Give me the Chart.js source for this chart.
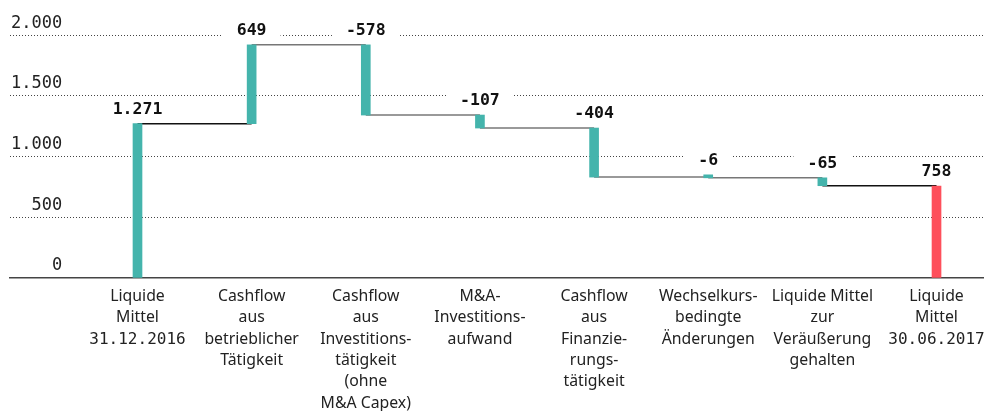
<!DOCTYPE html>
<html>
<head>
<meta charset="utf-8">
<script src="https://cdn.jsdelivr.net/npm/chart.js@4.4.1/dist/chart.umd.min.js"></script>
<style>
  html, body { margin: 0; padding: 0; background: #fff; }
  #wrap { width: 984px; height: 411px; }
</style>
</head>
<body>
<div id="wrap"><canvas id="cashChart"></canvas></div>
<script>
// Chart data
var categories = [
  ["Liquide", "Mittel", "31.12.2016"],
  ["Cashflow", "aus", "betrieblicher", "Tätigkeit"],
  ["Cashflow", "aus", "Investitions-", "tätigkeit", "(ohne", "M&A Capex)"],
  ["M&A-", "Investitions-", "aufwand"],
  ["Cashflow", "aus", "Finanzie-", "rungs-", "tätigkeit"],
  ["Wechselkurs-", "bedingte", "Änderungen"],
  ["Liquide Mittel", "zur", "Veräußerung", "gehalten"],
  ["Liquide", "Mittel", "30.06.2017"]
];
var changes = [1271, 649, -578, -107, -404, -6, -65, 758];
var isTotal = [true, false, false, false, false, false, false, true];
var yTickValues = [0, 500, 1000, 1500, 2000];

var TEAL = "#44b4ac";
var RED = "#fe4f5b";
var SANS = "15.8px 'Noto Sans'";
var MONO = "16px 'DejaVu Sans Mono'";

function fmtDe(v) {
  var s = String(Math.abs(v)).replace(/\B(?=(\d{3})+(?!\d))/g, ".");
  return (v < 0 ? "-" : "") + s;
}

// Build floating bars (waterfall) and connector lines
var barRanges = [];
var levels = [];
var running = 0;
changes.forEach(function (v, i) {
  if (isTotal[i]) {
    barRanges.push({ x: i, y: [0, v] });
    running = v;
  } else {
    barRanges.push({ x: i, y: [running, running + v] });
    running += v;
  }
  levels.push(running);
});

var connectorPoints = [];
for (var i = 0; i < categories.length - 1; i++) {
  connectorPoints.push({ x: i, y: levels[i] });
  connectorPoints.push({ x: i + 1, y: levels[i] });
  connectorPoints.push({ x: i + 1, y: null });
}
var lastConnector = (categories.length - 2) * 3;

// Value labels above the bars, with a white box that breaks the grid line
var valueLabelPlugin = {
  id: "valueLabels",
  beforeDatasetsDraw: function (chart) {
    var ctx = chart.ctx;
    var bars = chart.getDatasetMeta(0).data;
    ctx.save();
    ctx.font = "bold 16.5px 'DejaVu Sans Mono'";
    ctx.fillStyle = "#fff";
    bars.forEach(function (bar, i) {
      var top = Math.min(bar.y, bar.base);
      var w = ctx.measureText(fmtDe(changes[i])).width;
      var baseline = top - 10;
      ctx.fillRect(bar.x - w / 2 - 14, baseline - 12 - 5, w + 28, 12 + 5 + 4);
    });
    ctx.restore();
  },
  afterDatasetsDraw: function (chart) {
    var ctx = chart.ctx;
    var bars = chart.getDatasetMeta(0).data;
    ctx.save();
    ctx.font = "bold 16.5px 'DejaVu Sans Mono'";
    ctx.fillStyle = "#111";
    ctx.textAlign = "center";
    ctx.textBaseline = "alphabetic";
    bars.forEach(function (bar, i) {
      var top = Math.min(bar.y, bar.base);
      ctx.fillText(fmtDe(changes[i]), bar.x, top - 10);
    });
    ctx.restore();
  }
};

// Category labels under the axis (dates are set in the monospaced face)
var categoryLabelPlugin = {
  id: "categoryLabels",
  afterDraw: function (chart) {
    var ctx = chart.ctx;
    var xScale = chart.scales.x;
    var firstBaseline = chart.chartArea.bottom + 23;
    ctx.save();
    ctx.fillStyle = "#222";
    ctx.textAlign = "center";
    ctx.textBaseline = "alphabetic";
    categories.forEach(function (lines, i) {
      var x = xScale.getPixelForValue(i);
      lines.forEach(function (line, k) {
        ctx.font = /^\d/.test(line) ? MONO : SANS;
        ctx.fillText(line, x, firstBaseline + k * 21.3);
      });
    });
    ctx.restore();
  }
};

var ctxCanvas = document.getElementById("cashChart").getContext("2d");
var cashChart = new Chart(ctxCanvas, {
  type: "bar",
  data: {
    datasets: [
      {
        type: "bar",
        data: barRanges,
        backgroundColor: changes.map(function (v, i) {
          return i === changes.length - 1 ? RED : TEAL;
        }),
        borderWidth: 0,
        barThickness: 9,
        minBarLength: 3,
        order: 1
      },
      {
        type: "line",
        data: connectorPoints,
        borderColor: "#777",
        borderWidth: 1.5,
        pointRadius: 0,
        tension: 0,
        spanGaps: false,
        fill: false,
        order: 2,
        segment: {
          borderColor: function (c) {
            return c.p0DataIndex === 0 || c.p0DataIndex === lastConnector ? "#111" : "#777";
          }
        }
      }
    ]
  },
  options: {
    responsive: true,
    maintainAspectRatio: false,
    animation: false,
    layout: { padding: { left: 10, right: 0, top: 23, bottom: 0 } },
    plugins: {
      legend: { display: false },
      tooltip: { enabled: false }
    },
    scales: {
      x: {
        type: "linear",
        offset: false,
        min: -1.117,
        max: 7.416,
        grid: { display: false },
        border: { display: true, color: "#444", width: 1.5 },
        afterBuildTicks: function (scale) {
          scale.ticks = categories.map(function (c, i) { return { value: i }; });
        },
        afterFit: function (scale) { scale.height = 133; },
        ticks: { display: false }
      },
      y: {
        min: 0,
        max: 2100,
        position: "left",
        afterBuildTicks: function (scale) {
          scale.ticks = yTickValues.map(function (v) { return { value: v }; });
        },
        afterFit: function (scale) { scale.width = 0; },
        grid: {
          drawTicks: false,
          lineWidth: 1,
          color: function (c) {
            return c.tick && c.tick.value === 0 ? "rgba(0,0,0,0)" : "#444";
          }
        },
        border: { display: false, dash: [1, 2] },
        ticks: {
          mirror: true,
          crossAlign: "far",
          padding: 1,
          labelOffset: -12,
          color: "#222",
          font: { family: "'DejaVu Sans Mono'", size: 17 },
          callback: function (v) { return fmtDe(v); }
        }
      }
    }
  },
  plugins: [valueLabelPlugin, categoryLabelPlugin]
});
</script>
</body>
</html>
